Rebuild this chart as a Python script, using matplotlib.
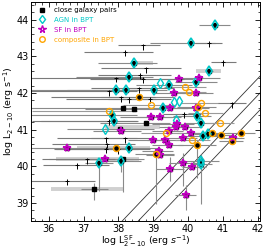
import matplotlib
matplotlib.use("Agg")
import matplotlib.pyplot as plt
from matplotlib.ticker import AutoMinorLocator
from matplotlib.lines import Line2D
import numpy as np

# ---- close galaxy pairs: x = log L_SF, y = log L_2-10, horizontal error (lo, hi), BPT class
pair_x = [40.76, 40.07, 38.44, 40.60, 39.73, 40.30, 40.22, 39.46, 39.03, 38.29,
          37.93, 38.22, 39.60, 40.22, 38.60, 39.29, 40.29, 40.21, 39.48, 40.26,
          38.93, 39.19, 40.38, 39.67, 38.78, 38.12, 38.44, 37.82, 37.87, 39.90,
          39.65, 39.46, 40.09, 38.98, 39.33, 39.86, 40.43, 40.57, 40.69, 40.95,
          41.52, 41.29, 41.27, 39.46, 40.24, 39.08, 39.17, 39.19, 39.48, 39.86,
          40.12, 40.38, 40.38, 39.93, 38.03, 38.06, 36.53, 37.94, 38.29, 37.61,
          37.44, 38.06, 38.13, 37.31]
pair_y = [43.87, 43.37, 42.82, 42.59, 42.39, 42.41, 42.31, 42.23, 42.08, 42.44,
          42.08, 42.08, 41.99, 41.99, 41.90, 41.60, 41.63, 41.60, 41.60, 41.38,
          41.36, 41.36, 41.19, 41.16, 41.19, 41.58, 41.56, 41.40, 41.25, 41.06,
          41.06, 40.97, 40.91, 40.73, 40.73, 40.76, 40.84, 40.88, 40.91, 40.86,
          40.91, 40.76, 40.70, 40.59, 40.57, 40.34, 40.41, 40.32, 39.92, 40.10,
          39.97, 40.15, 40.06, 39.23, 41.02, 40.97, 40.50, 40.49, 40.50, 40.19,
          40.10, 40.15, 40.19, 39.37]
pair_xlo = [0.46, 1.17, 1.04, 0.10, 0.50, 0.50, 0.60, 0.96, 1.30, 1.50,
            2.50, 1.70, 0.60, 0.40, 1.10, 1.00, 0.60, 0.40, 0.60, 0.70,
            0.90, 0.70, 0.50, 0.70, 1.30, 2.70, 1.40, 2.40, 2.10, 0.60,
            0.50, 0.50, 0.40, 0.70, 0.50, 0.50, 0.50, 0.40, 0.50, 0.45,
            0.40, 0.30, 0.40, 0.50, 0.54, 0.60, 0.50, 0.40, 0.40, 0.40,
            0.30, 0.60, 0.30, 0.30, 1.50, 0.80, 1.10, 0.30, 0.80, 1.60,
            0.40, 0.50, 0.60, 0.40]
pair_xhi = [0.44, 0.69, 0.66, 0.10, 0.40, 0.60, 0.60, 0.64, 0.37, 0.70,
            0.67, 0.68, 0.60, 0.50, 1.00, 0.70, 0.50, 0.40, 0.50, 0.40,
            0.60, 0.60, 0.50, 0.50, 0.70, 0.90, 0.86, 0.70, 0.70, 0.50,
            0.40, 0.40, 0.40, 0.50, 0.40, 0.40, 0.60, 0.40, 0.50, 0.35,
            0.40, 0.30, 0.30, 0.40, 0.56, 0.50, 0.40, 0.40, 0.40, 0.44,
            0.40, 0.50, 0.30, 0.30, 1.00, 0.60, 1.00, 0.30, 0.90, 0.80,
            0.40, 0.60, 0.60, 0.40]
pair_ylo = [0, 0, 0, 0, 0, 0, 0, 0, 0, 0,
            0, 0, 0, 0, 0, 0, 0, 0, 0, 0,
            0, 0, 0, 0, 0, 0, 0, 0, 0, 0,
            0, 0, 0, 0, 0, 0, 0, 0, 0, 0,
            0, 0, 0, 0, 0.90, 1.36, 0, 0, 0.32, 0.63,
            0, 1.17, 0, 0.43, 0, 0, 0, 0, 0, 0,
            0.77, 0.30, 0.90, 0.28]
pair_yhi = [0, 0, 0, 0, 0, 0, 0, 0, 0, 0,
            0, 0, 0, 0, 0, 0, 0, 0, 0, 0,
            0, 0, 0, 0, 0, 0, 0, 0, 0, 0,
            0, 0, 0, 0, 0, 0, 0, 0, 0, 0,
            0, 0, 0, 0, 0, 0.12, 0, 0, 0.33, 0.27,
            0, 0.18, 0, 0.27, 0, 0, 0, 0, 0, 0,
            0.0, 0.0, 0.0, 0.18]
pair_class = ["AGN", "AGN", "AGN", "AGN", "SF", "SF", "AGN", "AGN", "AGN", "AGN",
              "AGN", "AGN", "SF", "SF", "comp", "AGN", "comp", "SF", "SF", "AGN",
              "SF", "SF", "AGN", "SF", "", "", "", "AGN", "AGN", "SF",
              "SF", "SF", "SF", "SF", "SF", "SF", "AGN", "AGN", "comp", "comp",
              "comp", "SF", "comp", "SF", "comp", "comp", "SF", "SF", "SF", "SF",
              "SF", "AGN", "AGN", "SF", "", "SF", "SF", "comp", "AGN", "SF",
              "AGN", "AGN", "", ""]

# wide (light) error ranges
wide_y = [42.82, 42.59, 40.49, 39.37, 41.06, 40.20]
wide_lo = [38.44, 40.23, 36.80, 36.06, 37.60, 36.20]
wide_hi = [39.00, 40.94, 38.90, 38.14, 39.20, 38.60]

# BPT classified galaxies not drawn as pairs (open symbols)
agn_open_x = [39.19, 39.59, 39.73, 39.64, 37.61]
agn_open_y = [42.28, 41.76, 41.78, 41.27, 41.02]
comp_open_x = [39.92, 40.02, 40.38, 38.93, 40.49, 40.92, 39.35, 40.12, 37.72]
comp_open_y = [42.17, 42.04, 41.74, 41.68, 41.45, 41.19, 40.91, 40.71, 41.52]
open_xlo = [0.6, 0.5, 0.6, 0.8, 0.5, 0.4, 0.7, 0.5, 2.2]
open_xhi = [0.6, 0.5, 0.5, 0.7, 0.5, 0.4, 0.5, 0.5, 0.8]

# upper limits in L_2-10
ul_x = [40.60, 38.20, 41.00, 38.69, 38.79, 38.69, 37.94, 38.61, 38.60, 37.72,
        38.06, 38.29, 38.90, 39.88, 41.26, 37.72, 36.53, 36.82, 37.10, 37.68,
        37.63, 38.20, 37.65, 38.00]
ul_y = [43.37, 43.13, 42.86, 43.30, 42.68, 42.39, 42.41, 42.50, 42.13, 42.05,
        41.88, 41.85, 41.85, 41.43, 41.72, 41.25, 39.61, 40.04, 40.19, 40.61,
        40.77, 40.76, 40.48, 40.46]
ul_xlo = [0.40, 1.20, 0.34, 0.70, 1.30, 1.50, 2.50, 1.20, 1.40, 2.30,
          2.00, 1.80, 1.20, 0.60, 0.40, 2.20, 1.10, 1.00, 1.30, 1.60,
          1.40, 1.00, 1.50, 1.80]
ul_xhi = [0.37, 0.80, 0.37, 0.50, 1.00, 1.20, 0.80, 0.90, 1.00, 0.80,
          1.00, 0.80, 0.60, 0.50, 0.40, 0.80, 0.80, 0.90, 0.80, 0.80,
          0.90, 0.80, 0.90, 0.90]

# reference relations offsets (y = x + c)
line_offsets = [0.40, -0.06, -0.52]

fig = plt.figure(figsize=(2.66, 2.52), dpi=100)
ax = fig.add_axes([0.118, 0.122, 0.858, 0.872])

xs = np.linspace(35, 43, 10)
for c in line_offsets:
    ax.plot(xs, xs + c, color="#333333", lw=0.6, zorder=1)

for y, lo, hi in zip(wide_y, wide_lo, wide_hi):
    ax.plot([lo, hi], [y, y], color="#d0d0d0", lw=2.8, solid_capstyle="butt", zorder=1)

px = np.array(pair_x); py = np.array(pair_y)
ax.errorbar(px, py, xerr=[pair_xlo, pair_xhi], yerr=[pair_ylo, pair_yhi],
            fmt="none", ecolor="#8a8a8a", elinewidth=0.8, capsize=0, zorder=2)
ax.errorbar(comp_open_x, comp_open_y, xerr=[open_xlo, open_xhi],
            fmt="none", ecolor="#9a9a9a", elinewidth=0.8, capsize=0, zorder=2)
ax.errorbar(ul_x, ul_y, xerr=[ul_xlo, ul_xhi],
            fmt="none", ecolor="#7a7a7a", elinewidth=0.8, capsize=0, zorder=2)
ax.errorbar(ul_x, ul_y, yerr=[[0.12] * len(ul_x), [0.04] * len(ul_x)],
            fmt="_", color="black", ms=2.5, mew=0.7, elinewidth=0.7, capsize=0, zorder=3)

ax.plot(px, py, "s", color="black", ms=2.6, zorder=4)

cls = np.array(pair_class)
cyan = "#00c8c8"; mag = "#c000c0"; org = "#ffa500"
m = cls == "AGN"
ax.plot(px[m], py[m], "d", ms=4.6, mfc="none", mec=cyan, mew=1.2, zorder=5)
ax.plot(agn_open_x, agn_open_y, "d", ms=4.6, mfc="none", mec=cyan, mew=1.0, zorder=5)
m = cls == "SF"
ax.plot(px[m], py[m], "*", ms=5.6, mfc="none", mec=mag, mew=1.2, zorder=5)
m = cls == "comp"
ax.plot(px[m], py[m], "o", ms=4.3, mfc="none", mec=org, mew=1.1, zorder=5)
ax.plot(comp_open_x, comp_open_y, "o", ms=4.3, mfc="none", mec=org, mew=1.0, zorder=5)

ax.set_xlim(35.5, 42.05)
ax.set_ylim(38.5, 44.5)
ax.set_xticks([36, 37, 38, 39, 40, 41, 42])
ax.set_yticks([39, 40, 41, 42, 43, 44])
ax.xaxis.set_minor_locator(AutoMinorLocator(5))
ax.yaxis.set_minor_locator(AutoMinorLocator(5))
ax.tick_params(which="both", direction="in", top=True, right=True, labelsize=7)
ax.tick_params(which="major", length=3.5, width=0.6, pad=2)
ax.tick_params(which="minor", length=1.8, width=0.5)
for s in ax.spines.values():
    s.set_linewidth(0.7)
ax.set_xlabel(r"log L$^{\rm SF}_{2-10}$ (erg $s^{-1}$)", fontsize=6.8, labelpad=0)
ax.set_ylabel(r"log L$_{2-10}$ (erg s$^{-1}$)", fontsize=6.8, labelpad=0)

handles = [
    Line2D([], [], ls="none", marker="s", color="black", ms=2.6),
    Line2D([], [], ls="none", marker="d", mfc="none", mec=cyan, mew=1.0, ms=4.5),
    Line2D([], [], ls="none", marker="*", mfc="none", mec=mag, mew=1.0, ms=5.5),
    Line2D([], [], ls="none", marker="o", mfc="none", mec=org, mew=1.0, ms=4),
]
labels = ["close galaxy pairs", "AGN in BPT", "SF in BPT", "composite in BPT"]
leg = ax.legend(handles, labels, loc="upper left", frameon=False, fontsize=5,
                handletextpad=1.0, labelspacing=0.55, borderaxespad=0.4,
                borderpad=0.4, handlelength=1.5)
for t, c in zip(leg.get_texts(), ["black", cyan, mag, org]):
    t.set_color(c)

fig.savefig("out.png", dpi=100)
